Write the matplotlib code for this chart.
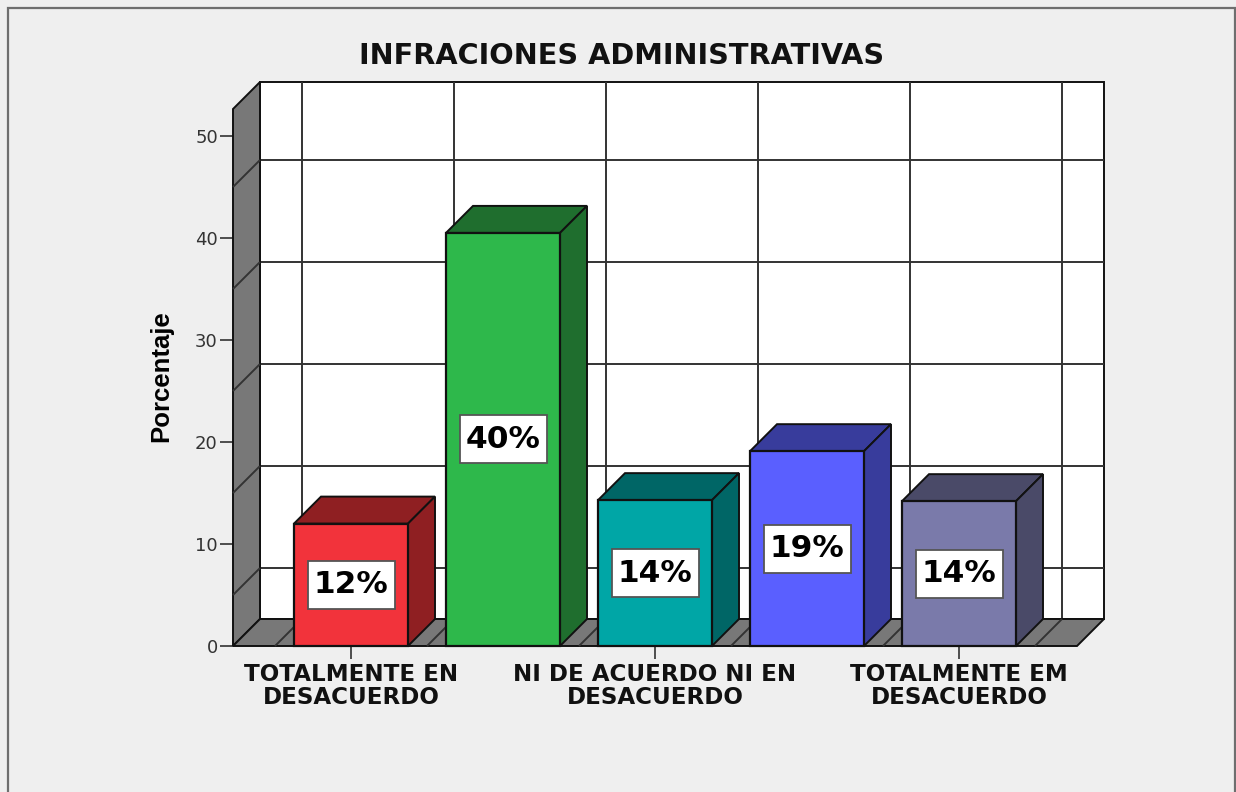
import matplotlib
matplotlib.use("Agg")
import matplotlib.pyplot as plt
from matplotlib.patches import Rectangle

categories = ["TOTALMENTE EN\nDESACUERDO", "", "NI DE ACUERDO NI EN\nDESACUERDO", "", "TOTALMENTE EM\nDESACUERDO"]
values = [12.0, 40.5, 14.3, 19.1, 14.2]
labels = ["12%", "40%", "14%", "19%", "14%"]
front_colors = ["#f2333b", "#2eb84b", "#00a6a6", "#5a5fff", "#7a7aaa"]
dark_colors = ["#8f1f22", "#1f6e2e", "#006666", "#383c9c", "#4a4a68"]
y_ticks = [0, 10, 20, 30, 40, 50]
grid_levels = [5, 15, 25, 35, 45]

W, H = 1236, 792
plt.rcParams["font.family"] = ["DejaVu Sans"]

fig = plt.figure(figsize=(W / 100, H / 100), dpi=100, facecolor="#efefef")

# outer frame of the SPSS window, open at the bottom
fig.add_artist(Rectangle((8 / W, -0.02), (1235 - 8) / W, 1.02 - 8 / H, transform=fig.transFigure,
                         fill=False, edgecolor="#6e6e6e", linewidth=1.6))

# axes box runs from the front-left corner to the back-right corner
ax = fig.add_axes([233 / W, 1 - 646 / H, (1104 - 233) / W, (646 - 82) / H])
ax.patch.set_alpha(0)
per_cat, per_unit = 152.0, 10.2
x0 = -(351 - 233) / per_cat
xmax = x0 + (1104 - 233) / per_cat
ymax = (646 - 82) / per_unit
xfront = x0 + (1077 - 233) / per_cat
ax.set_xlim(x0, xmax)
ax.set_ylim(0, ymax)
dx, dy = 27 / per_cat, 27 / per_unit  # depth of the 3D effect
ytop = ymax - dy
EDGE = "#111111"


def poly(xs, ys, color, z):
    ax.fill(xs, ys, facecolor=color, edgecolor=EDGE, linewidth=1.4, zorder=z, clip_on=False)


def line(xs, ys, z, lw=1.4, color="#333333"):
    ax.plot(xs, ys, color=color, linewidth=lw, zorder=z, clip_on=False, solid_capstyle="butt")


# back wall, left wall and floor
poly([x0 + dx, xmax, xmax, x0 + dx], [dy, dy, ymax, ymax], "white", 1)
poly([x0, x0 + dx, x0 + dx, x0], [0, dy, ymax, ytop], "#787878", 2)
poly([x0, xfront, xmax, x0 + dx], [0, 0, dy, dy], "#787878", 2)

for g in grid_levels:
    line([x0 + dx, xmax], [g + dy, g + dy], 1.5)
    line([x0, x0 + dx], [g, g + dy], 3)
for b in [i - 0.5 for i in range(len(values) + 1)]:
    line([b + dx, b + dx], [dy, ymax], 1.5)
    line([b, b + dx], [0, dy], 3)

bar_w = 114 / per_cat
box_w, box_h = 87 / per_cat, 48 / per_unit
for i, v in enumerate(values):
    z = 10 + i
    left, right = i - bar_w / 2, i + bar_w / 2
    ax.bar(i, v, width=bar_w, color=front_colors[i], edgecolor=EDGE, linewidth=1.6, zorder=z + 0.2, clip_on=False)
    poly([left, right, right + dx, left + dx], [v, v, v + dy, v + dy], dark_colors[i], z)
    poly([right, right + dx, right + dx, right], [0, dy, v + dy, v], dark_colors[i], z)
    ax.add_patch(Rectangle((i - box_w / 2, v / 2 - box_h / 2), box_w, box_h, facecolor="white",
                           edgecolor="#555555", linewidth=1.3, zorder=z + 0.4))
    ax.text(i, v / 2, labels[i], ha="center", va="center", fontsize=22.5, fontweight="bold", color="black",
            zorder=z + 0.5)

ax.spines[["top", "right", "left", "bottom"]].set_visible(False)
ax.set_yticks(y_ticks)
ax.tick_params(axis="y", length=9.4, width=1.1, color="#222222", labelsize=13, labelcolor="#333333", pad=1.5)
ax.set_xticks([i for i, c in enumerate(categories) if c])
ax.set_xticklabels([c for c in categories if c], fontsize=16.6, fontweight="bold", linespacing=1.0,
                   color="#111111")
ax.tick_params(axis="x", length=9.4, width=1.1, color="#222222", pad=3)

fig.text(622 / W, 1 - 56 / H, "INFRACIONES ADMINISTRATIVAS", ha="center", va="center", fontsize=20.7,
         fontweight="bold", color="#111111")
fig.text(161 / W, 1 - 376 / H, "Porcentaje", rotation=90, ha="center", va="center", fontsize=18.5,
         fontweight="bold", color="black", family="Liberation Sans")

fig.savefig("out.png", dpi=100, facecolor=fig.get_facecolor())
